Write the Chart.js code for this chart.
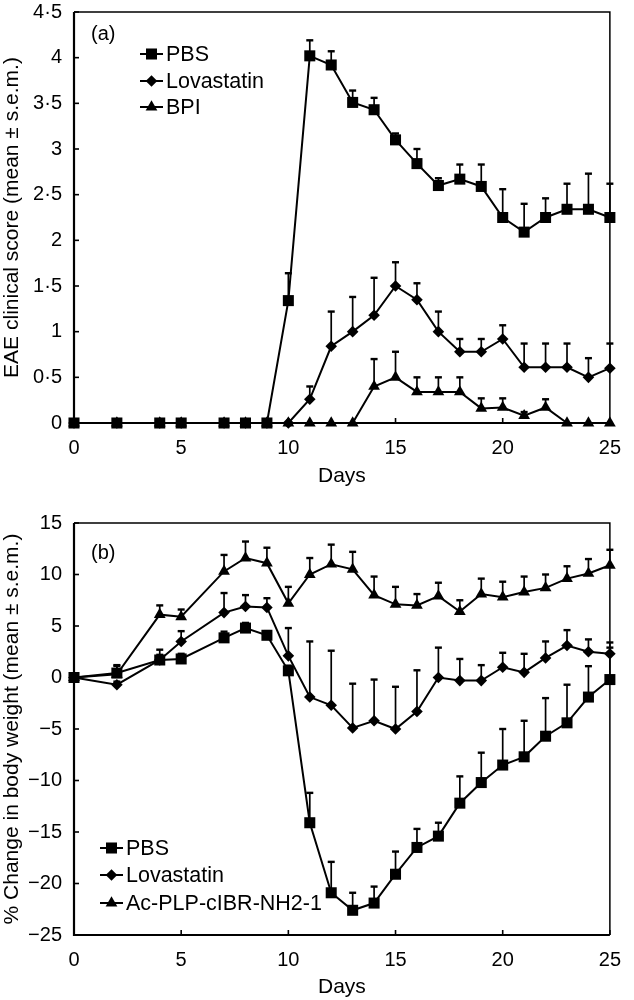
<!DOCTYPE html>
<html>
<head>
<meta charset="utf-8">
<script src="https://cdn.jsdelivr.net/npm/chart.js@4.4.1/dist/chart.umd.min.js"></script>
<style>
  body { margin: 0; background: #fff; overflow: hidden; }
  canvas { position: absolute; left: 0; }
  #panelA { top: -12px; }
  #panelB { top: 495px; }
</style>
</head>
<body>
<canvas id="panelA" width="634" height="507"></canvas>
<canvas id="panelB" width="634" height="505"></canvas>
<script>
// --- panel (a): EAE clinical score ---
const daysA = [0, 2, 4, 5, 7, 8, 9, 10, 11, 12, 13, 14, 15, 16, 17, 18, 19, 20, 21, 22, 23, 24, 25];
const scorePBS = [0, 0, 0, 0, 0, 0, 0, 1.34, 4.02, 3.92, 3.51, 3.43, 3.10, 2.84, 2.60, 2.67, 2.59, 2.25, 2.09, 2.25, 2.34, 2.34, 2.25];
const scorePBSsem = [0, 0, 0, 0, 0, 0, 0, 0.30, 0.17, 0.15, 0.13, 0.13, 0.07, 0.16, 0.08, 0.16, 0.24, 0.31, 0.31, 0.21, 0.28, 0.39, 0.37];
const scoreLova = [0, 0, 0, 0, 0, 0, 0, 0, 0.26, 0.84, 1.00, 1.18, 1.50, 1.35, 1.00, 0.78, 0.78, 0.92, 0.61, 0.61, 0.61, 0.50, 0.60];
const scoreLovaSem = [0, 0, 0, 0, 0, 0, 0, 0, 0.14, 0.38, 0.38, 0.41, 0.26, 0.18, 0.22, 0.14, 0.14, 0.15, 0.26, 0.26, 0.26, 0.21, 0.27];
const scoreBPI = [0, 0, 0, 0, 0, 0, 0, 0, 0, 0, 0, 0.40, 0.50, 0.34, 0.34, 0.34, 0.16, 0.17, 0.08, 0.17, 0, 0, 0];
const scoreBPIsem = [0, 0, 0, 0, 0, 0, 0, 0, 0, 0, 0, 0.30, 0.28, 0.16, 0.16, 0.16, 0.11, 0.10, 0.04, 0.09, 0, 0, 0];
const scoreTickLabels = ['0', '0·5', '1', '1·5', '2', '2·5', '3', '3·5', '4', '4·5'];
const legendA = ['PBS', 'Lovastatin', 'BPI'];

// --- panel (b): % change in body weight ---
const daysB = [0, 2, 4, 5, 7, 8, 9, 10, 11, 12, 13, 14, 15, 16, 17, 18, 19, 20, 21, 22, 23, 24, 25];
const weightPBS = [0, 0.43, 1.7, 1.8, 3.85, 4.8, 4.1, 0.65, -14.1, -20.9, -22.6, -21.9, -19.1, -16.5, -15.4, -12.2, -10.2, -8.5, -7.7, -5.7, -4.4, -1.9, -0.2];
const weightPBSsem = [0, 0.7, 0.5, 0.5, 0.6, 0.5, 0.4, 0.5, 2.9, 3.0, 1.7, 1.6, 2.2, 1.8, 1.3, 2.6, 2.9, 3.5, 3.5, 3.7, 3.7, 3.0, 3.1];
const weightLova = [0, -0.7, 1.7, 3.5, 6.3, 6.9, 6.8, 2.1, -1.9, -2.7, -4.9, -4.2, -5.0, -3.3, 0, -0.3, -0.3, 1.0, 0.5, 1.9, 3.1, 2.5, 2.3];
const weightLovaSem = [0, 0.3, 1.0, 1.0, 1.9, 1.1, 0.9, 2.7, 5.4, 5.3, 4.3, 4.0, 4.1, 4.0, 2.9, 2.1, 1.5, 1.4, 1.8, 1.6, 1.5, 1.2, 1.1];
const weightPep = [0, 0.3, 6.1, 5.9, 10.3, 11.6, 11.1, 7.2, 10.0, 11.0, 10.5, 8.0, 7.1, 7.0, 7.9, 6.4, 8.1, 7.8, 8.3, 8.7, 9.6, 10.1, 10.9];
const weightPepSem = [0, 0.9, 0.9, 0.7, 1.6, 1.6, 1.5, 1.6, 1.6, 1.9, 1.7, 1.8, 1.7, 1.1, 1.3, 1.1, 1.5, 1.5, 1.5, 1.3, 1.2, 1.4, 1.5];
const weightTickLabels = ['−25', '−20', '−15', '−10', '−5', '0', '5', '10', '15'];
const legendB = ['PBS', 'Lovastatin', 'Ac-PLP-cIBR-NH2-1'];

const dayTickLabels = ['0', '5', '10', '15', '20', '25'];

const FONT = "'Liberation Sans', Arial, Helvetica, sans-serif";
const markers = [
    { pointStyle: 'rect', radius: 7.8 },
    { pointStyle: 'rectRot', radius: 5.8 },
    { pointStyle: 'triangle', radius: 6.8 }
];

function series(days, values, sem, k, label) {
    return {
        label,
        data: days.map((d, i) => ({ x: d, y: values[i] })),
        sem,
        borderColor: '#000',
        backgroundColor: '#000',
        borderWidth: 2,
        pointStyle: markers[k].pointStyle,
        pointRadius: markers[k].radius,
        pointBorderWidth: 0,
        pointBackgroundColor: '#000',
        tension: 0,
        clip: false
    };
}

// error bars, box frame, inward ticks, legend and panel letter
const paperPlugin = {
    id: 'paper',
    beforeDatasetsDraw(chart) {
        const { ctx } = chart;
        const xs = chart.scales.x, ys = chart.scales.y;
        ctx.save();
        ctx.strokeStyle = '#000';
        chart.data.datasets.forEach(ds => {
            ds.data.forEach((p, i) => {
                const s = ds.sem[i];
                if (!s) return;
                const px = xs.getPixelForValue(p.x);
                const py = ys.getPixelForValue(p.y);
                const pt = ys.getPixelForValue(p.y + s);
                ctx.lineWidth = 1.7;
                ctx.beginPath(); ctx.moveTo(px, py); ctx.lineTo(px, pt); ctx.stroke();
                ctx.lineWidth = 2.4;
                ctx.beginPath(); ctx.moveTo(px - 3.5, pt); ctx.lineTo(px + 3.5, pt); ctx.stroke();
            });
        });
        ctx.restore();
    },
    afterDraw(chart, args, opts) {
        const { ctx, chartArea: a } = chart;
        const xs = chart.scales.x, ys = chart.scales.y;
        ctx.save();
        ctx.strokeStyle = '#000';
        // frame
        ctx.lineWidth = 1.5;
        ctx.beginPath();
        ctx.moveTo(a.left, a.top); ctx.lineTo(a.right, a.top); ctx.lineTo(a.right, a.bottom);
        ctx.stroke();
        ctx.lineWidth = 2.2;
        ctx.beginPath();
        ctx.moveTo(a.left, a.top); ctx.lineTo(a.left, a.bottom); ctx.lineTo(a.right, a.bottom);
        ctx.stroke();
        // inward ticks
        ctx.lineWidth = 1.6;
        ys.ticks.forEach(t => {
            const py = ys.getPixelForValue(t.value);
            ctx.beginPath(); ctx.moveTo(a.left, py); ctx.lineTo(a.left + 5, py); ctx.stroke();
        });
        xs.ticks.forEach(t => {
            const px = xs.getPixelForValue(t.value);
            ctx.beginPath(); ctx.moveTo(px, a.bottom); ctx.lineTo(px, a.bottom - 5); ctx.stroke();
        });
        // panel letter
        ctx.fillStyle = '#000';
        ctx.font = '20px ' + FONT;
        ctx.textBaseline = 'middle';
        ctx.textAlign = 'left';
        ctx.fillText(opts.letter, opts.letterX, opts.letterY);
        // legend
        ctx.font = '21.5px ' + FONT;
        opts.labels.forEach((lab, i) => {
            const y = opts.legendY[i];
            const x0 = opts.legendX, x1 = x0 + 23;
            ctx.lineWidth = 2;
            ctx.beginPath(); ctx.moveTo(x0, y); ctx.lineTo(x1, y); ctx.stroke();
            Chart.helpers.drawPoint(ctx, {
                pointStyle: markers[i].pointStyle, radius: markers[i].radius,
                rotation: 0, borderWidth: 0
            }, (x0 + x1) / 2, y);
            ctx.fillText(lab, x1 + 3, y + 1);
        });
        ctx.restore();
    }
};

function makePanel(canvasId, datasets, yMin, yMax, yStep, yLabels, yTitle, pad, xHeight, titlePadBottom, legendOpts) {
    return new Chart(document.getElementById(canvasId), {
        type: 'line',
        data: { datasets },
        plugins: [paperPlugin],
        options: {
            responsive: false,
            animation: false,
            layout: { autoPadding: false, padding: pad },
            plugins: {
                legend: { display: false },
                tooltip: { enabled: false },
                paper: legendOpts
            },
            scales: {
                x: {
                    type: 'linear', min: 0, max: 25,
                    grid: { display: false, drawTicks: false },
                    border: { display: false },
                    ticks: {
                        stepSize: 5, padding: 13, color: '#000', maxRotation: 0,
                        font: { family: FONT, size: 20 },
                        callback: (v, i) => dayTickLabels[i]
                    },
                    title: {
                        display: true, text: 'Days', color: '#000',
                        font: { family: FONT, size: 21 },
                        padding: { top: 0, bottom: titlePadBottom }
                    },
                    afterFit: s => { s.height = xHeight; }
                },
                y: {
                    min: yMin, max: yMax,
                    grid: { display: false, drawTicks: false },
                    border: { display: false },
                    ticks: {
                        stepSize: yStep, padding: 12, color: '#000',
                        font: { family: FONT, size: 20 },
                        callback: (v, i) => yLabels[i]
                    },
                    title: {
                        display: true, text: yTitle, color: '#000',
                        font: { family: FONT, size: 21 },
                        padding: { top: 0, bottom: 0 }
                    },
                    afterFit: s => { s.width = 74; }
                }
            }
        }
    });
}

makePanel('panelA', [
    series(daysA, scorePBS, scorePBSsem, 0, legendA[0]),
    series(daysA, scoreLova, scoreLovaSem, 1, legendA[1]),
    series(daysA, scoreBPI, scoreBPIsem, 2, legendA[2])
], 0, 4.5, 0.5, scoreTickLabels, 'EAE clinical score (mean ± s.e.m.)',
   { left: 0, right: 13, top: 22, bottom: 0 }, 72, 6,
   { letter: '(a)', letterX: 91, letterY: 46, labels: legendA, legendX: 140, legendY: [66, 93, 119] });

makePanel('panelB', [
    series(daysB, weightPBS, weightPBSsem, 0, legendB[0]),
    series(daysB, weightLova, weightLovaSem, 1, legendB[1]),
    series(daysB, weightPep, weightPepSem, 2, legendB[2])
], -25, 15, 5, weightTickLabels, '% Change in body weight (mean ± s.e.m.)',
   { left: 0, right: 13, top: 28, bottom: 0 }, 65, 0,
   { letter: '(b)', letterX: 91, letterY: 58, labels: legendB, legendX: 100, legendY: [353, 380, 408] });
</script>
</body>
</html>
